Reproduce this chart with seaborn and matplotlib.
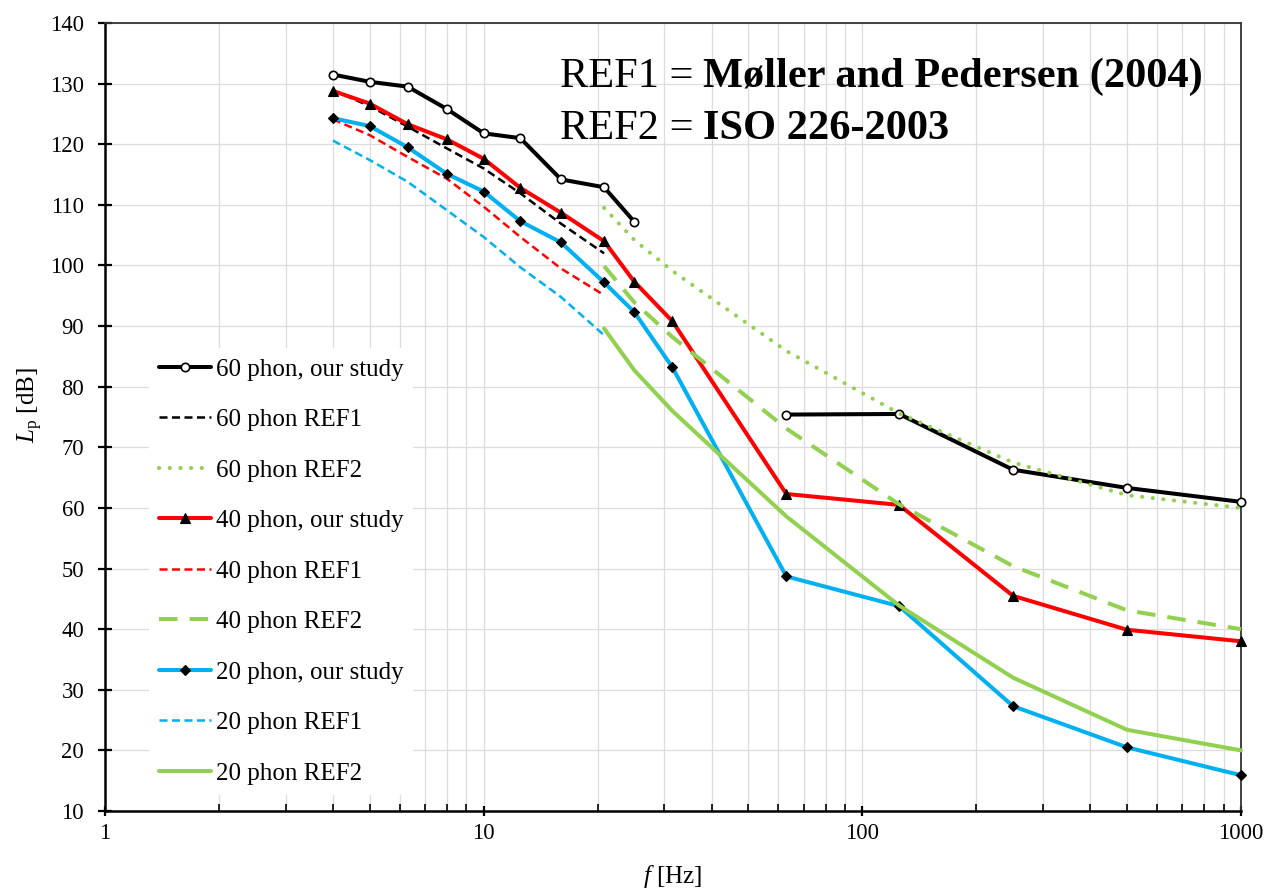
import matplotlib
matplotlib.use("Agg")
import matplotlib.pyplot as plt
from matplotlib.ticker import LogLocator, NullFormatter, FixedLocator, FixedFormatter
import seaborn as sns

# Frequencies [Hz]
freq_study_low = [4, 5, 6.3, 8, 10, 12.5, 16, 20.8, 25]
freq_study = [4, 5, 6.3, 8, 10, 12.5, 16, 20.8, 25, 31.5, 63, 125, 250, 500, 1000]
freq_study_high = [63, 125, 250, 500, 1000]
freq_ref1 = [4, 5, 6.3, 8, 10, 12.5, 16, 20.8]
freq_ref2 = [20.8, 25, 31.5, 63, 125, 250, 500, 1000]

# Sound pressure levels [dB], our study
lp60_study_low = [131.5, 130.3, 129.5, 125.8, 121.8, 121.0, 114.2, 112.9, 107.2]
lp60_study_high = [75.4, 75.5, 66.3, 63.3, 61.0]
lp40_study = [128.8, 126.7, 123.3, 120.8, 117.6, 112.8, 108.7, 104.0, 97.3,
              90.8, 62.3, 60.5, 45.5, 39.9, 38.0]
lp20_study = [124.3, 123.0, 119.5, 115.1, 112.2, 107.3, 103.8, 97.2, 92.3,
              83.2, 48.7, 43.8, 27.3, 20.5, 15.9]

# REF1: Møller and Pedersen (2004)
lp60_ref1 = [128.9, 126.3, 122.9, 119.3, 116.0, 111.9, 106.9, 102.0]
lp40_ref1 = [124.1, 121.5, 117.9, 114.3, 109.7, 104.7, 99.5, 95.1]
lp20_ref1 = [120.6, 117.4, 113.8, 109.1, 104.7, 99.7, 94.8, 88.5]

# REF2: ISO 226-2003
lp60_ref2 = [109.5, 104.2, 99.1, 85.9, 75.6, 67.5, 62.1, 60.0]
lp40_ref2 = [99.9, 93.9, 88.2, 73.1, 60.6, 50.4, 43.1, 40.0]
lp20_ref2 = [89.6, 82.7, 76.0, 58.6, 43.9, 32.0, 23.4, 20.0]

x_ticks = [1, 10, 100, 1000]
x_tick_labels = ["1", "10", "100", "1000"]
y_ticks = list(range(10, 141, 10))

BLACK = "#000000"
RED = "#FF0000"
BLUE = "#00B0F0"
GREEN = "#92D050"

sns.set_style("white")
plt.rcParams["font.family"] = ["Liberation Serif", "DejaVu Serif"]
plt.rcParams["mathtext.fontset"] = "custom"
plt.rcParams["mathtext.rm"] = "Liberation Serif"
plt.rcParams["mathtext.it"] = "Liberation Serif:italic"
plt.rcParams["mathtext.bf"] = "Liberation Serif:bold"
for key in ("text.color", "axes.labelcolor", "xtick.color", "ytick.color"):
    plt.rcParams[key] = BLACK

fig = plt.figure(figsize=(12.67, 8.88), dpi=100)
ax = fig.add_axes([105 / 1267, 1 - 811 / 888, 1136 / 1267, 788 / 888])

common = dict(ax=ax, sort=False, estimator=None, clip_on=False)

study_lw = 2.9
ref1_lw = 1.8
ref2_lw = 2.9

# REF1 dashed curves (drawn underneath)
h60r1 = sns.lineplot(x=freq_ref1, y=lp60_ref1, color=BLACK, lw=ref1_lw,
                     linestyle=(0, (3.2, 1.8)), zorder=3, **common).lines[-1]
h40r1 = sns.lineplot(x=freq_ref1, y=lp40_ref1, color=RED, lw=ref1_lw,
                     linestyle=(0, (3.2, 1.8)), zorder=3, **common).lines[-1]
h20r1 = sns.lineplot(x=freq_ref1, y=lp20_ref1, color=BLUE, lw=ref1_lw,
                     linestyle=(0, (3.2, 1.8)), zorder=3, **common).lines[-1]

# Our study
h60s = sns.lineplot(x=freq_study_low, y=lp60_study_low, color=BLACK, lw=study_lw,
                    marker="o", markersize=6, markerfacecolor="white",
                    markeredgecolor=BLACK, markeredgewidth=1.2, zorder=4,
                    **common).lines[-1]
sns.lineplot(x=freq_study_high, y=lp60_study_high, color=BLACK, lw=study_lw,
             marker="o", markersize=6, markerfacecolor="white",
             markeredgecolor=BLACK, markeredgewidth=1.2, zorder=4, **common)
h40s = sns.lineplot(x=freq_study, y=lp40_study, color=RED, lw=study_lw,
                    marker="^", markersize=7, markerfacecolor=BLACK,
                    markeredgecolor=BLACK, markeredgewidth=0.8, zorder=4,
                    **common).lines[-1]
h20s = sns.lineplot(x=freq_study, y=lp20_study, color=BLUE, lw=study_lw,
                    marker="D", markersize=4.8, markerfacecolor=BLACK,
                    markeredgecolor=BLACK, markeredgewidth=0.8, zorder=4,
                    **common).lines[-1]

# REF2 curves (ISO 226-2003)
h60r2 = sns.lineplot(x=freq_ref2, y=lp60_ref2, color=GREEN, lw=2.9,
                     linestyle=(0, (0.05, 2.6)), dash_capstyle="round",
                     zorder=5, **common).lines[-1]
h40r2 = sns.lineplot(x=freq_ref2, y=lp40_ref2, color=GREEN, lw=ref2_lw,
                     linestyle=(0, (4.6, 3.0)), zorder=5, **common).lines[-1]
h20r2 = sns.lineplot(x=freq_ref2, y=lp20_ref2, color=GREEN, lw=ref2_lw,
                     zorder=5, **common).lines[-1]

# Axes, scales, ticks
ax.set_xscale("log")
ax.set_xlim(1, 1000)
ax.set_ylim(10, 140)
ax.xaxis.set_major_locator(FixedLocator(x_ticks))
ax.xaxis.set_major_formatter(FixedFormatter(x_tick_labels))
ax.xaxis.set_minor_locator(LogLocator(base=10, subs=range(2, 10)))
ax.xaxis.set_minor_formatter(NullFormatter())
ax.set_yticks(y_ticks)

ax.set_axisbelow(True)
ax.grid(which="major", axis="both", color="#dcdcdc", lw=0.9)
ax.grid(which="minor", axis="x", color="#dcdcdc", lw=0.9)

ax.tick_params(axis="y", which="major", direction="inout", length=10,
               width=1.6, labelsize=16.3, pad=10, color=BLACK, left=True)
ax.tick_params(axis="x", which="major", direction="inout", length=7,
               width=1.6, labelsize=16.3, pad=5, color=BLACK, bottom=True)
ax.tick_params(axis="x", which="minor", direction="in", length=5,
               width=1.2, color=BLACK, bottom=True)

for side in ("left", "bottom"):
    ax.spines[side].set_color(BLACK)
    ax.spines[side].set_linewidth(1.8)
for side in ("top", "right"):
    ax.spines[side].set_visible(True)
    ax.spines[side].set_color("#333333")
    ax.spines[side].set_linewidth(1.3)

ax.set_xlabel("$f$ [Hz]", fontsize=18)
ax.set_ylabel(r"$L_\mathrm{p}$ [dB]", fontsize=18)
ax.xaxis.set_label_coords(0.5, -0.066)
ax.yaxis.set_label_coords(-0.053, 0.515)

# Legend
handles = [h60s, h60r1, h60r2, h40s, h40r1, h40r2, h20s, h20r1, h20r2]
labels = ["60 phon, our study", "60 phon REF1", "60 phon REF2",
          "40 phon, our study", "40 phon REF1", "40 phon REF2",
          "20 phon, our study", "20 phon REF1", "20 phon REF2"]
leg = ax.legend(handles, labels, loc="center left",
                bbox_to_anchor=(0.028, 0.304), fontsize=18, frameon=True,
                facecolor="white", edgecolor="none", framealpha=1,
                handlelength=2.05, handletextpad=0.2, labelspacing=1.12,
                borderpad=0.4, numpoints=1)
leg.set_zorder(10)

# Reference annotations
fig.text(560 / 1267, 1 - 87 / 888, "REF1 = ", fontsize=30.5, va="baseline", ha="left")
fig.text(703 / 1267, 1 - 87 / 888, "Møller and Pedersen (2004)", fontsize=30.5,
         fontweight="bold", va="baseline", ha="left")
fig.text(560 / 1267, 1 - 139 / 888, "REF2 = ", fontsize=30.5, va="baseline", ha="left")
fig.text(703 / 1267, 1 - 139 / 888, "ISO 226-2003", fontsize=30.5,
         fontweight="bold", va="baseline", ha="left")

fig.savefig("out.png", dpi=100)
